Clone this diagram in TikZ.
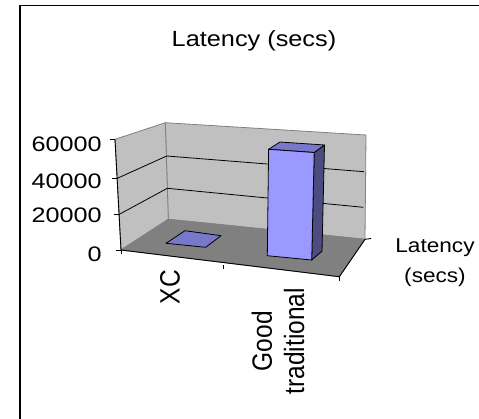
\documentclass[tikz,border=0pt]{standalone}
\usepackage{fontspec}
\setmainfont{Liberation Sans}
\usetikzlibrary{calc}
\definecolor{wallgray}{HTML}{C0C0C0}
\definecolor{floorgray}{HTML}{808080}
\definecolor{edgegray}{HTML}{808080}
\definecolor{barfront}{HTML}{9999FF}
\definecolor{barside}{HTML}{4C4C80}
\definecolor{bartop}{HTML}{7777CC}
\begin{document}
\begin{tikzpicture}[x=1pt,y=-1pt,
  wallface/.style={fill=wallgray, draw=edgegray, line width=0.8pt},
  floorface/.style={fill=floorgray, draw=edgegray, line width=0.8pt},
  gridline/.style={draw=black, line width=0.8pt},
  axisline/.style={draw=black, line width=0.9pt},
  tickmark/.style={draw=black, line width=0.9pt},
  barface/.style={draw=black, line width=0.8pt, line join=round},
  ticklabel/.style={inner sep=0pt, font=\fontsize{21}{25}\selectfont, xscale=1.2},
  catlabel/.style={inner sep=0pt, align=center, font=\fontsize{24.5}{28.3}\selectfont, xscale=1.14, rotate=90},
  titlelabel/.style={inner sep=0pt, font=\fontsize{22}{26}\selectfont, xscale=1.15},
  serieslabel/.style={inner sep=0pt, align=center, font=\fontsize{20}{30}\selectfont, xscale=1.13},
  frameline/.style={draw=black, line width=1.8pt}
]
\useasboundingbox (0,0) rectangle (479,418);

% outer frame
\coordinate (fbl) at (20,419);
\coordinate (ftl) at (20,5.5);
\coordinate (ftr) at (480,5.5);
\draw[frameline] (fbl) -- (ftl) -- (ftr);

% chart corners
\coordinate (BLT) at (165.3,122.7);
\coordinate (BRT) at (366,135);
\coordinate (BRB) at (365,239.3);
\coordinate (BLB) at (168.3,219.3);
\coordinate (FLT) at (115,139.3);
\coordinate (FLB) at (121,250);
\coordinate (FRB) at (339.3,276.7);

% walls and floor
\path[wallface] (BLT) -- (BRT) -- (BRB) -- (BLB) -- cycle;
\path[wallface] (FLT) -- (BLT) -- (BLB) -- (FLB) -- cycle;
\path[floorface] (FLB) -- (BLB) -- (BRB) -- (FRB) -- cycle;

% gridlines
\coordinate (bg4l) at (166.7,156);
\coordinate (bg4r) at (364,171.7);
\coordinate (bg2l) at (167.3,188.3);
\coordinate (bg2r) at (363.3,207.3);
\coordinate (fg4) at (117.3,178.3);
\coordinate (fg2) at (119.3,214.3);
\draw[gridline] (fg4) -- (bg4l) -- (bg4r);
\draw[gridline] (fg2) -- (bg2l) -- (bg2r);

% axes
\draw[axisline] (FLT) -- (FLB) -- (FRB) -- (BRB);

% value axis ticks
\foreach \p/\q in {FLT/t6, fg4/t4, fg2/t2, FLB/t0}{
  \coordinate (\q) at ($(\p)+(-5,0)$);
  \draw[tickmark] (\p) -- (\q);
}
% category axis ticks
\coordinate (cmid) at (223.3,264.8);
\coordinate (cmidd) at (223.3,269);
\coordinate (cl) at (121,254);
\coordinate (crd) at (339.3,281);
\draw[tickmark] (FLB) -- (cl);
\draw[tickmark] (cmid) -- (cmidd);
\draw[tickmark] (FRB) -- (crd);
% depth axis tick
\coordinate (dtick) at (371,238.5);
\draw[tickmark] (BRB) -- (dtick);

% XC bar (flat)
\coordinate (x1) at (166,243.3);
\coordinate (x2) at (205.7,247.3);
\coordinate (x3) at (221,235.7);
\coordinate (x4) at (185,230.7);
\path[barface, fill=bartop] (x1) -- (x2) -- (x3) -- (x4) -- cycle;

% Good traditional bar
\coordinate (gftl) at (268.6,149.3);
\coordinate (gftr) at (314.2,152.5);
\coordinate (gfbr) at (311.7,260);
\coordinate (gfbl) at (267.3,255.7);
\coordinate (gbtl) at (280,142);
\coordinate (gbtr) at (324.5,145);
\coordinate (gbbr) at (322,251.2);
\path[barface, fill=barside] (gftr) -- (gbtr) -- (gbbr) -- (gfbr) -- cycle;
\path[barface, fill=bartop] (gftl) -- (gbtl) -- (gbtr) -- (gftr) -- cycle;
\path[barface, fill=barfront] (gftl) -- (gftr) -- (gfbr) -- (gfbl) -- cycle;

% labels
\node[titlelabel, anchor=base] (title) at (254,46.7) {Latency (secs)};
\node[ticklabel, anchor=base east] (l6) at (102,151) {60000};
\node[ticklabel, anchor=base east] (l4) at (102,188.3) {40000};
\node[ticklabel, anchor=base east] (l2) at (102,222.5) {20000};
\node[ticklabel, anchor=base east] (l0) at (102,261.5) {0};
\node[catlabel, anchor=east] (cxc) at (170,270) {XC};
\node[catlabel, anchor=center] (cgood) at (277.9,341.3) {Good\\traditional};
\node[serieslabel, anchor=north] (series) at (435,239) {Latency\\(secs)};
\end{tikzpicture}
\end{document}
